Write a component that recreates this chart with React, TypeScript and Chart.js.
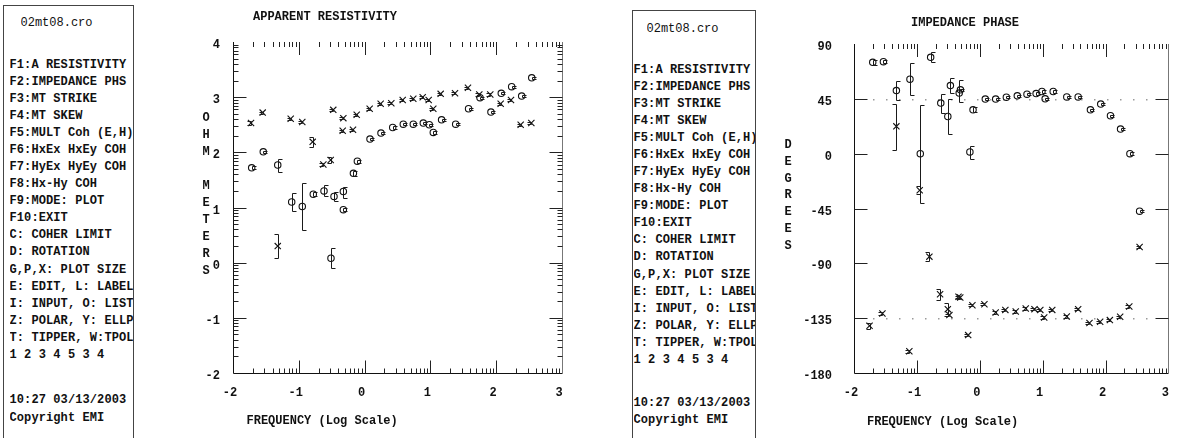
import React, { useEffect, useRef } from "react";
import { Chart, registerables } from "chart.js";

Chart.register(...registerables);

const MONO = '"Liberation Mono", "DejaVu Sans Mono", monospace';

// ---------------- data ----------------
// Apparent resistivity (log10 ohm-m) vs log10 frequency
const resFreqO = [-1.716, -1.54, -1.32, -1.108, -0.947, -0.78, -0.617, -0.511, -0.465, -0.323, -0.323, -0.17, -0.11, 0.082, 0.249, 0.427, 0.588, 0.74, 0.892, 0.983, 1.044, 1.17, 1.384, 1.58, 1.754, 1.92, 2.077, 2.235, 2.387, 2.54];
const resRhoO = [1.72, 2.01, 1.77, 1.1, 1.02, 1.24, 1.3, 0.08, 1.2, 1.29, 0.96, 1.62, 1.84, 2.24, 2.35, 2.45, 2.51, 2.51, 2.53, 2.5, 2.36, 2.59, 2.51, 2.79, 2.99, 2.73, 3.07, 3.19, 3.02, 3.35];
const resLoO = [1.69, 1.99, 1.65, 0.93, 0.59, 1.2, 1.2, -0.1, 1.11, 1.17, 0.93, 1.57, 1.8, 2.22, 2.33, 2.43, 2.49, 2.49, 2.51, 2.48, 2.34, 2.57, 2.49, 2.77, 2.97, 2.71, 3.05, 3.17, 3.0, 3.33];
const resHiO = [1.76, 2.03, 1.88, 1.26, 1.44, 1.28, 1.41, 0.26, 1.29, 1.38, 0.99, 1.67, 1.87, 2.26, 2.37, 2.47, 2.53, 2.53, 2.55, 2.52, 2.38, 2.61, 2.53, 2.81, 3.01, 2.75, 3.09, 3.21, 3.04, 3.37];

const resFreqX = [-1.726, -1.549, -1.32, -1.123, -0.947, -0.789, -0.627, -0.515, -0.476, -0.333, -0.323, -0.176, -0.12, 0.077, 0.244, 0.406, 0.579, 0.74, 0.883, 0.974, 1.044, 1.156, 1.374, 1.571, 1.743, 1.91, 2.068, 2.225, 2.372, 2.534];
const resRhoX = [2.53, 2.72, 0.3, 2.61, 2.55, 2.19, 1.78, 1.86, 2.77, 2.39, 2.62, 2.41, 2.68, 2.79, 2.88, 2.89, 2.95, 2.97, 3.0, 2.95, 2.79, 3.06, 3.07, 3.17, 3.05, 3.05, 2.88, 2.95, 2.5, 2.53];
const resLoX = [2.5, 2.7, 0.08, 2.59, 2.53, 2.1, 1.76, 1.8, 2.75, 2.37, 2.6, 2.39, 2.66, 2.77, 2.86, 2.87, 2.93, 2.95, 2.98, 2.93, 2.77, 3.04, 3.05, 3.15, 3.03, 3.03, 2.86, 2.93, 2.48, 2.51];
const resHiX = [2.56, 2.74, 0.52, 2.63, 2.57, 2.28, 1.8, 1.92, 2.79, 2.41, 2.64, 2.43, 2.7, 2.81, 2.9, 2.91, 2.97, 2.99, 3.02, 2.97, 2.81, 3.08, 3.09, 3.19, 3.07, 3.07, 2.9, 2.97, 2.52, 2.55];

// Impedance phase (degrees) vs log10 frequency
const phFreqO = [-1.702, -1.532, -1.326, -1.11, -0.946, -0.781, -0.62, -0.508, -0.467, -0.327, -0.307, -0.157, -0.107, 0.088, 0.253, 0.423, 0.597, 0.751, 0.896, 0.989, 1.04, 1.168, 1.384, 1.565, 1.76, 1.924, 2.079, 2.239, 2.388, 2.542];
const phDegO = [75, 75.5, 51.8, 61.1, 0, 79.1, 41.5, 30.5, 55.9, 49.7, 52.4, 1.4, 36, 44.8, 44.8, 46.4, 47.5, 48.8, 49.3, 51, 45, 51, 46.6, 46.6, 36, 40.7, 31.1, 20.2, 0, -47.2];
const phLoO = [73, 74.5, 44.2, 48.3, -40.3, 75.5, 33.3, 16.4, 49.7, 42.8, 51.4, -4, 34, 43.8, 43.8, 45.4, 46.5, 47.8, 48.3, 50, 44, 50, 45.6, 45.6, 35, 39.7, 30.1, 19.2, -1, -48.2];
const phHiO = [77, 76.5, 60, 74.2, 40, 83.7, 48.8, 44.7, 62, 60.5, 53.4, 6, 38, 45.8, 45.8, 47.4, 48.5, 49.8, 50.3, 52, 46, 52, 47.6, 47.6, 37, 41.7, 32.1, 21.2, 1, -46.2];

const phFreqX = [-1.753, -1.548, -1.326, -1.12, -0.955, -0.801, -0.631, -0.508, -0.483, -0.338, -0.31, -0.184, -0.117, 0.074, 0.253, 0.407, 0.572, 0.731, 0.87, 0.963, 1.025, 1.153, 1.384, 1.565, 1.745, 1.915, 2.069, 2.233, 2.378, 2.542];
const phDegX = [-141.3, -131.2, 22.4, -162.2, -30, -84.5, -115.3, -127.6, -132.5, -117.5, -118, -148.9, -124.4, -123.5, -130.3, -128.2, -129.5, -127, -127.6, -128.2, -134.4, -128.2, -133.6, -127.6, -139, -138, -136.6, -133.9, -125.4, -76.6];
const phLoX = [-144, -132.2, 2.7, -163.2, -33.5, -88, -120, -133, -133.5, -118.5, -119, -149.9, -125.4, -124.5, -131.3, -129.2, -130.5, -128, -128.6, -129.2, -135.4, -129.2, -134.6, -128.6, -140, -139, -137.6, -134.9, -126.4, -77.6];
const phHiX = [-138.6, -130.2, 40.7, -161.2, -26.7, -81, -111, -122.7, -131.5, -116.5, -117, -147.9, -123.4, -122.5, -129.3, -127.2, -128.5, -126, -126.6, -127.2, -133.4, -127.2, -132.6, -126.6, -138, -137, -135.6, -132.9, -124.4, -75.6];

// ticks
const freqTicks = [-2, -1, 0, 1, 2, 3];
const rhoTicks = [-2, -1, 0, 1, 2, 3, 4];
const phaseTicks = [-180, -135, -90, -45, 0, 45, 90];
const logMinorMultipliers = [2, 3, 4, 5, 6, 7, 8, 9];
const phaseRefLines = [45, -135];

// side menu text
const fileName = "02mt08.cro";
const menuLines = [
  "F1:A RESISTIVITY",
  "F2:IMPEDANCE PHS",
  "F3:MT STRIKE",
  "F4:MT SKEW",
  "F5:MULT Coh (E,H)",
  "F6:HxEx HxEy COH",
  "F7:HyEx HyEy COH",
  "F8:Hx-Hy COH",
  "F9:MODE: PLOT",
  "F10:EXIT",
  "C: COHER LIMIT",
  "D: ROTATION",
  "G,P,X: PLOT SIZE",
  "E: EDIT, L: LABEL",
  "I: INPUT, O: LIST",
  "Z: POLAR, Y: ELLP",
  "T: TIPPER, W:TPOL",
  "1 2 3 4 5 3 4",
];
const timeStamp = "10:27 03/13/2003";
const copyright = "Copyright EMI";

// ---------------- chart building ----------------
type PlotSpec = {
  canvasLeft: number;
  canvasWidth: number;
  padTop: number;
  padRight: number;
  yWidth: number;
  yPad: number;
  yTicks: number[];
  yMinor: boolean;
  refLines: number[];
  title: string;
  titleX: number;
  titleY: number;
  xTitle: string;
  xTitleX: number;
  xTitleY: number;
  vLabel: string;
  vLabelX: number;
  vLabelY0: number;
  vLabelStep: number;
  freqO: number[];
  valO: number[];
  loO: number[];
  hiO: number[];
  freqX: number[];
  valX: number[];
  loX: number[];
  hiX: number[];
};

function decorPlugin(spec: PlotSpec) {
  return {
    id: "decor",
    beforeDatasetsDraw(chart: any) {
      const { ctx, chartArea: a, scales } = chart;
      const xs = scales.x;
      const ys = scales.y;
      const L = Math.round(a.left) + 0.5;
      const R = Math.round(a.right) + 0.5;
      const T = Math.round(a.top);
      const B = Math.round(a.bottom) + 0.5;
      const line = (x1: number, y1: number, x2: number, y2: number) => {
        ctx.beginPath();
        ctx.moveTo(x1, y1);
        ctx.lineTo(x2, y2);
        ctx.stroke();
      };
      ctx.save();
      ctx.lineWidth = 1;

      // dotted reference lines
      ctx.fillStyle = "#9a9a9a";
      for (const v of spec.refLines) {
        const py = Math.round(ys.getPixelForValue(v));
        for (let px = a.left + 19; px < a.right - 14; px += 13) ctx.fillRect(px, py, 1.5, 1.5);
      }

      // axis lines
      ctx.strokeStyle = "#111";
      line(L, T, L, B);
      line(L, B, R, B);
      ctx.strokeStyle = "#777";
      line(R, T, R, B);

      // x ticks (log decades)
      ctx.strokeStyle = "#222";
      const xTick = (v: number, len: number) => {
        const px = Math.round(xs.getPixelForValue(v)) + 0.5;
        line(px, B, px, B - len);
        line(px, T, px, T + len);
      };
      freqTicks.forEach((k, i) => {
        if (i > 0 && i < freqTicks.length - 1) xTick(k, 13);
        if (i < freqTicks.length - 1) logMinorMultipliers.forEach((m) => xTick(k + Math.log10(m), 5));
      });

      // y ticks
      const yTick = (v: number, len: number) => {
        const py = Math.round(ys.getPixelForValue(v)) + 0.5;
        line(L, py, L + len, py);
        line(R, py, R - len, py);
      };
      spec.yTicks.forEach((k, i) => {
        if (i > 0 && i < spec.yTicks.length - 1) yTick(k, 13);
        if (spec.yMinor && i < spec.yTicks.length - 1)
          logMinorMultipliers.forEach((m) => yTick(k + Math.log10(m), 5));
      });
      ctx.restore();
    },
    afterDatasetsDraw(chart: any) {
      const { ctx, scales } = chart;
      const xs = scales.x;
      const ys = scales.y;
      ctx.save();
      ctx.lineWidth = 1;
      ctx.strokeStyle = "#1a1a1a";
      chart.data.datasets.forEach((ds: any) => {
        const side = ds.capSide;
        ds.data.forEach((p: any, i: number) => {
          const px = Math.round(xs.getPixelForValue(p.x)) + 0.5;
          const y1 = Math.round(ys.getPixelForValue(ds.errLo[i])) + 0.5;
          const y2 = Math.round(ys.getPixelForValue(ds.errHi[i])) + 0.5;
          ctx.beginPath();
          ctx.moveTo(px, y1);
          ctx.lineTo(px, y2);
          ctx.moveTo(px, y1);
          ctx.lineTo(px + side * 4, y1);
          ctx.moveTo(px, y2);
          ctx.lineTo(px + side * 4, y2);
          ctx.stroke();
        });
      });
      ctx.restore();
    },
    afterDraw(chart: any) {
      const { ctx } = chart;
      ctx.save();
      ctx.fillStyle = "#111";
      ctx.font = `bold 12px ${MONO}`;
      ctx.textBaseline = "middle";
      ctx.textAlign = "left";
      ctx.fillText(spec.title, spec.titleX, spec.titleY);
      ctx.fillText(spec.xTitle, spec.xTitleX, spec.xTitleY);
      ctx.textAlign = "center";
      Array.from(spec.vLabel).forEach((ch, i) => {
        if (ch !== " ") ctx.fillText(ch, spec.vLabelX, spec.vLabelY0 + i * spec.vLabelStep);
      });
      ctx.restore();
    },
  };
}

function buildConfig(spec: PlotSpec): any {
  const tickFont = { family: MONO, size: 12, weight: "bold" as const };
  return {
    type: "scatter",
    data: {
      datasets: [
        {
          label: "o",
          data: spec.freqO.map((f, i) => ({ x: f, y: spec.valO[i] })),
          errLo: spec.loO,
          errHi: spec.hiO,
          capSide: 1,
          pointStyle: "circle",
          radius: 3.2,
          borderWidth: 1.1,
          borderColor: "#111",
          backgroundColor: "rgba(0,0,0,0)",
          showLine: false,
        },
        {
          label: "x",
          data: spec.freqX.map((f, i) => ({ x: f, y: spec.valX[i] })),
          errLo: spec.loX,
          errHi: spec.hiX,
          capSide: -1,
          pointStyle: "crossRot",
          radius: 4.4,
          borderWidth: 1.1,
          borderColor: "#111",
          backgroundColor: "rgba(0,0,0,0)",
          showLine: false,
        },
      ],
    },
    options: {
      animation: false,
      responsive: false,
      maintainAspectRatio: false,
      events: [],
      layout: { padding: { top: spec.padTop, right: spec.padRight, left: 0, bottom: 0 } },
      plugins: { legend: { display: false }, tooltip: { enabled: false }, title: { display: false } },
      scales: {
        x: {
          type: "linear",
          position: "bottom",
          min: freqTicks[0],
          max: freqTicks[freqTicks.length - 1],
          grid: { display: false, drawTicks: false },
          border: { display: false },
          afterBuildTicks: (s: any) => {
            s.ticks = freqTicks.map((v) => ({ value: v }));
          },
          afterFit: (s: any) => {
            s.height = 65;
          },
          ticks: {
            autoSkip: false,
            maxRotation: 0,
            padding: 13,
            labelOffset: -3,
            color: "#111",
            font: tickFont,
            callback: (v: any) => String(v),
          },
        },
        y: {
          type: "linear",
          position: "left",
          min: spec.yTicks[0],
          max: spec.yTicks[spec.yTicks.length - 1],
          grid: { display: false, drawTicks: false },
          border: { display: false },
          afterBuildTicks: (s: any) => {
            s.ticks = spec.yTicks.map((v) => ({ value: v }));
          },
          afterFit: (s: any) => {
            s.width = spec.yWidth;
          },
          ticks: {
            autoSkip: false,
            padding: spec.yPad,
            labelOffset: 3,
            color: "#111",
            font: tickFont,
            callback: (v: any) => String(v),
          },
        },
      },
    },
    plugins: [decorPlugin(spec)],
  };
}

const resistivitySpec: PlotSpec = {
  canvasLeft: 140,
  canvasWidth: 440,
  padTop: 42,
  padRight: 18,
  yWidth: 93,
  yPad: 13,
  yTicks: rhoTicks,
  yMinor: true,
  refLines: [],
  title: "APPARENT RESISTIVITY",
  titleX: 113,
  titleY: 17,
  xTitle: "FREQUENCY (Log Scale)",
  xTitleX: 106.5,
  xTitleY: 421,
  vLabel: "OHM METERS",
  vLabelX: 66,
  vLabelY0: 118,
  vLabelStep: 17,
  freqO: resFreqO,
  valO: resRhoO,
  loO: resLoO,
  hiO: resHiO,
  freqX: resFreqX,
  valX: resRhoX,
  loX: resLoX,
  hiX: resHiX,
};

const phaseSpec: PlotSpec = {
  canvasLeft: 760,
  canvasWidth: 425,
  padTop: 44,
  padRight: 8,
  yWidth: 94,
  yPad: 22,
  yTicks: phaseTicks,
  yMinor: false,
  refLines: phaseRefLines,
  title: "IMPEDANCE PHASE",
  titleX: 151,
  titleY: 23,
  xTitle: "FREQUENCY (Log Scale)",
  xTitleX: 107,
  xTitleY: 422,
  vLabel: "DEGREES",
  vLabelX: 28,
  vLabelY0: 145,
  vLabelStep: 16.8,
  freqO: phFreqO,
  valO: phDegO,
  loO: phLoO,
  hiO: phHiO,
  freqX: phFreqX,
  valX: phDegX,
  loX: phLoX,
  hiX: phHiX,
};

function Plot({ spec }: { spec: PlotSpec }) {
  const ref = useRef<HTMLCanvasElement | null>(null);
  useEffect(() => {
    if (!ref.current) return;
    let alive = true;
    const chart = new Chart(ref.current, buildConfig(spec));
    const fonts: any = (document as any).fonts;
    if (fonts && fonts.load) {
      Promise.all([fonts.load(`bold 12px ${MONO}`), fonts.load(`12px ${MONO}`)])
        .then(() => {
          if (alive) chart.update();
        })
        .catch(() => {});
    }
    return () => {
      alive = false;
      chart.destroy();
    };
  }, [spec]);
  return (
    <canvas
      ref={ref}
      width={spec.canvasWidth}
      height={438}
      style={{ position: "absolute", left: spec.canvasLeft, top: 0, width: spec.canvasWidth, height: 438 }}
    />
  );
}

function SideMenu({
  boxLeft,
  boxTop,
  boxWidth,
  textX,
  fileX,
  fileY,
  firstY,
  timeY,
}: {
  boxLeft: number;
  boxTop: number;
  boxWidth: number;
  textX: number;
  fileX: number;
  fileY: number;
  firstY: number;
  timeY: number;
}) {
  const LH = 17.05;
  const clipW = boxLeft + boxWidth - 1 - textX;
  const base: React.CSSProperties = {
    position: "absolute",
    fontFamily: MONO,
    fontSize: 12,
    lineHeight: `${LH}px`,
    letterSpacing: "0.1px",
    whiteSpace: "pre",
    color: "#111",
    overflow: "hidden",
  };
  return (
    <>
      <div
        style={{
          position: "absolute",
          left: boxLeft,
          top: boxTop,
          width: boxWidth,
          height: 460,
          border: "1px solid #444",
          borderBottom: "none",
          boxSizing: "border-box",
        }}
      />
      <div style={{ ...base, left: fileX, top: fileY - LH / 2, letterSpacing: 0 }}>{fileName}</div>
      <div style={{ ...base, left: textX, top: firstY - LH / 2, width: clipW, fontWeight: "bold" }}>
        {menuLines.map((l, i) => (
          <div key={i}>{l}</div>
        ))}
      </div>
      <div style={{ ...base, left: textX, top: timeY - LH / 2, width: clipW, fontWeight: "bold" }}>
        <div>{timeStamp}</div>
        <div>{copyright}</div>
      </div>
    </>
  );
}

export default function App() {
  return (
    <div
      style={{
        position: "fixed",
        left: 0,
        top: 0,
        width: 1185,
        height: 438,
        background: "#fff",
        overflow: "hidden",
      }}
    >
      <SideMenu boxLeft={3} boxTop={5} boxWidth={131} textX={9.5} fileX={20.5} fileY={24} firstY={65.5} timeY={401} />
      <Plot spec={resistivitySpec} />
      <SideMenu boxLeft={632} boxTop={10} boxWidth={124} textX={633.5} fileX={646.5} fileY={29.5} firstY={70.5} timeY={403.5} />
      <Plot spec={phaseSpec} />
    </div>
  );
}
